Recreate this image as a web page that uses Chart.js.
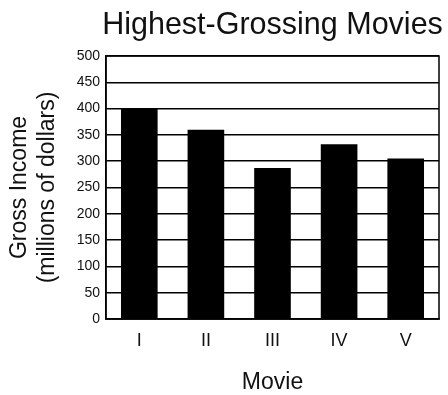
<!DOCTYPE html>
<html>
<head>
<meta charset="utf-8">
<script src="https://cdn.jsdelivr.net/npm/chart.js@4.4.1/dist/chart.umd.min.js"></script>
<style>
  html, body { margin: 0; padding: 0; background: #fff; }
  #wrap { width: 448px; height: 395px; }
</style>
</head>
<body>
<div id="wrap"><canvas id="c" width="448" height="395"></canvas></div>
<script>
// Box-office totals for each film in the series
const movies = ['I', 'II', 'III', 'IV', 'V'];
const grossIncome = [400, 360, 287, 332, 305];
const yTicks = [0, 50, 100, 150, 200, 250, 300, 350, 400, 450, 500];

const chartTitle = 'Highest-Grossing Movies';
const yTitle = ['Gross Income', '(millions of dollars)'];
const xTitle = 'Movie';

const FONT = '"Liberation Sans", Arial, Helvetica, sans-serif';

// Title centred over the plot area, plus a frame around the plot
const framePlugin = {
  id: 'frameAndTitle',
  afterDraw(chart) {
    const { ctx, chartArea: a } = chart;
    ctx.save();
    ctx.strokeStyle = '#000';
    ctx.lineWidth = 1.5;
    ctx.strokeRect(a.left, a.top, a.right - a.left, a.bottom - a.top);
    ctx.fillStyle = '#111';
    ctx.font = '30.5px ' + FONT;
    ctx.textAlign = 'center';
    ctx.textBaseline = 'alphabetic';
    ctx.fillText(chartTitle, (a.left + a.right) / 2, 34);
    ctx.restore();
  }
};

new Chart(document.getElementById('c'), {
  type: 'bar',
  data: {
    labels: movies,
    datasets: [{
      data: grossIncome,
      backgroundColor: '#000',
      borderWidth: 0,
      categoryPercentage: 1,
      barPercentage: 0.55
    }]
  },
  options: {
    responsive: false,
    animation: false,
    devicePixelRatio: 1,
    layout: { padding: { top: 56, right: 9, left: 0, bottom: 0 } },
    plugins: {
      legend: { display: false },
      tooltip: { enabled: false },
      title: { display: false }
    },
    scales: {
      x: {
        grid: { display: false, drawTicks: false },
        border: { display: true, color: '#000', width: 1.5 },
        ticks: {
          color: '#111',
          padding: 11,
          font: { family: FONT, size: 18 }
        },
        title: {
          display: true,
          text: xTitle,
          color: '#111',
          font: { family: FONT, size: 23, lineHeight: 1 },
          padding: { top: 0, bottom: 1 }
        },
        afterFit(scale) { scale.height = 76; }
      },
      y: {
        min: 0,
        max: 500,
        afterBuildTicks(scale) { scale.ticks = yTicks.map(v => ({ value: v })); },
        grid: { color: '#000', lineWidth: 1.5, drawTicks: false },
        border: { display: true, color: '#000', width: 1.5 },
        ticks: {
          color: '#111',
          padding: 6,
          font: { family: FONT, size: 14 }
        },
        title: {
          display: true,
          text: yTitle,
          color: '#111',
          font: { family: FONT, size: 23, lineHeight: 1.2 },
          padding: { top: 6, bottom: 0 }
        },
        afterFit(scale) { scale.width = 106; }
      }
    }
  },
  plugins: [framePlugin]
});
</script>
</body>
</html>
